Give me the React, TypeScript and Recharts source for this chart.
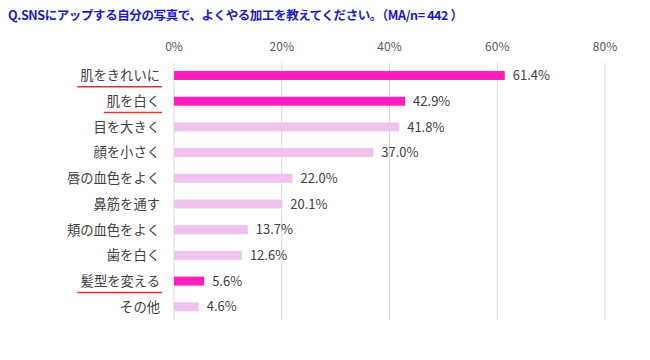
import { BarChart, Bar, XAxis, YAxis, CartesianGrid, Cell, LabelList } from 'recharts';

const categories = ['肌をきれいに', '肌を白く', '目を大きく', '顔を小さく', '唇の血色をよく', '鼻筋を通す', '頬の血色をよく', '歯を白く', '髪型を変える', 'その他'];
const values = [61.4, 42.9, 41.8, 37.0, 22.0, 20.1, 13.7, 12.6, 5.6, 4.6];
const highlighted = ['肌をきれいに', '肌を白く', '髪型を変える'];
const xTicks = [0, 20, 40, 60, 80];

const data = categories.map((name, i) => ({ name, value: values[i] }));

const FONT = '"Noto Sans CJK JP", "Noto Sans", sans-serif';
const DARK = '#ff1fbf';
const LIGHT = '#f0c3ee';

function CategoryTick(props: any) {
  const { x, y, payload } = props;
  const label: string = payload.value;
  const mark = highlighted.includes(label);
  const w = label.length * 13.3;
  return (
    <g>
      <text x={x} y={y} dy={4.5} textAnchor="end" fontSize={13.3} fill="#404040" fontFamily={FONT}>
        {label}
      </text>
      {mark && <line x1={x - w - 3} x2={x + 2} y1={y + 11} y2={y + 11} stroke="#e8332f" strokeWidth={1.5} />}
    </g>
  );
}

export default function App() {
  return (
    <div style={{ position: 'relative', width: 650, height: 360, background: '#fff' }}>
      <style>{'body{margin:0}'}</style>
      <div
        style={{
          position: 'absolute',
          left: 8,
          top: 5,
          fontFamily: FONT,
          fontWeight: 700,
          fontSize: 12.5,
          letterSpacing: -0.4,
          color: '#1a1acc',
          whiteSpace: 'nowrap',
        }}
      >
        Q.SNSにアップする自分の写真で、よくやる加工を教えてください。（MA/n= 442 ）
      </div>
      <BarChart
        width={650}
        height={360}
        data={data}
        layout="vertical"
        margin={{ top: 33, right: 45, bottom: 40, left: 0 }}
      >
        <CartesianGrid horizontal={false} stroke="#d9d9d9" />
        <XAxis
          type="number"
          orientation="top"
          domain={[0, 80]}
          ticks={xTicks}
          tickFormatter={(v: number) => `${v}%`}
          axisLine={false}
          tickLine={false}
          tickMargin={6}
          tick={{ fontSize: 12, fill: '#595959', fontFamily: FONT }}
        />
        <YAxis
          type="category"
          dataKey="name"
          width={174}
          axisLine={false}
          tickLine={false}
          tickMargin={8}
          interval={0}
          tick={<CategoryTick />}
        />
        <Bar dataKey="value" barSize={9} isAnimationActive={false}>
          {data.map((d) => (
            <Cell key={d.name} fill={highlighted.includes(d.name) ? DARK : LIGHT} />
          ))}
          <LabelList
            dataKey="value"
            position="right"
            offset={8}
            formatter={(v: any) => `${Number(v).toFixed(1)}%`}
            style={{ fontSize: 13, fill: '#404040', fontFamily: FONT }}
          />
        </Bar>
      </BarChart>
    </div>
  );
}
